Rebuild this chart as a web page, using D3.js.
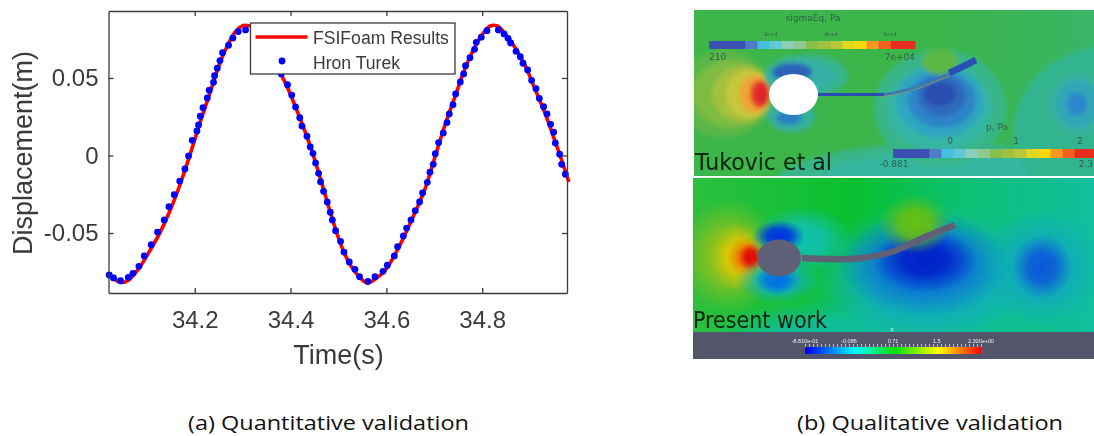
<!DOCTYPE html>
<html>
<head>
<meta charset="utf-8">
<script src="https://cdn.jsdelivr.net/npm/d3@7"></script>
<style>
  html, body { margin: 0; padding: 0; background: #fff; }
  svg { display: block; }
</style>
</head>
<body>
<svg id="chart" width="1094" height="436"></svg>
<script>
// FSIFoam curve
const lineTime = [34.0205, 34.0319, 34.0466, 34.0612, 34.0758, 34.0883, 34.1071, 34.128, 34.1489, 34.1697, 34.1906, 34.2115, 34.2324, 34.2532, 34.2699, 34.2846, 34.3013, 34.3159, 34.3326, 34.3534, 34.3785, 34.3994, 34.4203, 34.4411, 34.462, 34.4829, 34.5038, 34.5246, 34.5455, 34.5601, 34.5768, 34.5977, 34.6186, 34.6395, 34.6603, 34.6812, 34.7021, 34.723, 34.7438, 34.7647, 34.7856, 34.8023, 34.8169, 34.8315, 34.8482, 34.8691, 34.89, 34.9109, 34.9317, 34.9526, 34.9672, 34.9808]
const lineDisp = [-0.0758, -0.0797, -0.0819, -0.0806, -0.0758, -0.0706, -0.061, -0.0494, -0.0352, -0.0184, 0.001, 0.0216, 0.041, 0.0603, 0.0719, 0.0797, 0.0839, 0.0835, 0.081, 0.0732, 0.0539, 0.0397, 0.0235, 0.0061, -0.0145, -0.0365, -0.0565, -0.0706, -0.079, -0.0823, -0.0797, -0.0739, -0.0635, -0.0506, -0.0365, -0.021, -0.0003, 0.0203, 0.0384, 0.0565, 0.0706, 0.079, 0.0835, 0.0835, 0.0784, 0.0694, 0.0577, 0.0423, 0.0268, 0.0087, -0.0042, -0.0171]

// Hron Turek points (the ones under the legend are not readable)
const dotTime = [34.0215, 34.0305, 34.0451, 34.0612, 34.071, 34.0835, 34.0946, 34.1092, 34.1223, 34.1363, 34.1461, 34.1572, 34.1687, 34.1795, 34.1871, 34.1948, 34.2046, 34.2079, 34.2115, 34.2171, 34.2261, 34.2303, 34.2392, 34.2413, 34.247, 34.2526, 34.258, 34.2706, 34.2797, 34.2908, 34.3061, 34.3806, 34.3937, 34.4025, 34.4104, 34.4192, 34.4238, 34.4342, 34.4411, 34.4468, 34.4522, 34.4585, 34.4626, 34.4689, 34.4766, 34.4829, 34.4871, 34.4939, 34.5044, 34.5115, 34.5225, 34.5344, 34.544, 34.5616, 34.5762, 34.5929, 34.6019, 34.6165, 34.6234, 34.6353, 34.6422, 34.6514, 34.6603, 34.6693, 34.6756, 34.6854, 34.691, 34.6979, 34.7021, 34.709, 34.7188, 34.7265, 34.7313, 34.739, 34.7445, 34.7543, 34.7612, 34.7653, 34.7745, 34.7841, 34.7877, 34.7981, 34.81, 34.8336, 34.8455, 34.8539, 34.8593, 34.8706, 34.8795, 34.8852, 34.8948, 34.9031, 34.9123, 34.9192, 34.9282, 34.9353, 34.9428, 34.9491, 34.9526, 34.9616, 34.9658, 34.9735]
const dotDisp = [-0.0771, -0.079, -0.0808, -0.0786, -0.076, -0.0715, -0.0648, -0.0575, -0.0494, -0.0416, -0.033, -0.0253, -0.0165, -0.0087, -0.0003, 0.0098, 0.0158, 0.0197, 0.0253, 0.0308, 0.0371, 0.0421, 0.0472, 0.0515, 0.0563, 0.0612, 0.0663, 0.0711, 0.0758, 0.0799, 0.081, 0.0526, 0.0457, 0.039, 0.0313, 0.0244, 0.019, 0.0124, 0.0055, 0.0014, -0.0048, -0.0115, -0.0169, -0.0231, -0.03, -0.0366, -0.0416, -0.0485, -0.0554, -0.0623, -0.0687, -0.0734, -0.0782, -0.0812, -0.0782, -0.0747, -0.0708, -0.0648, -0.0588, -0.0519, -0.0468, -0.0416, -0.0356, -0.03, -0.0242, -0.0173, -0.0108, -0.0057, 0.0012, 0.0083, 0.0145, 0.0212, 0.0268, 0.0328, 0.0397, 0.0474, 0.0526, 0.0579, 0.0631, 0.0685, 0.073, 0.0763, 0.0805, 0.081, 0.0784, 0.0756, 0.0726, 0.0672, 0.0637, 0.0595, 0.0552, 0.0485, 0.0431, 0.0369, 0.0315, 0.0268, 0.0201, 0.015, 0.0081, 0.0008, -0.0057, -0.0121]

const xTicks = [34.2, 34.4, 34.6, 34.8]
const yTicks = [0.05, 0, -0.05]
const yTickLabels = ['0.05', '0', '-0.05']
const legendLabels = ['FSIFoam Results', 'Hron Turek']

// pressure patches of the two field pictures: [x, y, rx, ry, colour] in panel pixels
const topPatches = [
  [250, 175, 170, 42, '#38b58a'], [250, 168, 120, 26, '#35b6a0'], [420, 120, 100, 85, '#33b58e'],
  [30, 84, 48, 44, '#58b746'], [38, 84, 40, 34, '#7dbb43'], [48, 84, 30, 28, '#a4c03e'], [54, 84, 22, 24, '#c6c83a'],
  [60, 84, 15, 19, '#eda634'], [66, 84, 10, 14, '#e6402b'], [68, 84, 7, 11, '#e2202a'],
  [112, 66, 42, 22, '#38b48c'], [108, 66, 34, 16, '#36b0a8'], [98, 62, 20, 9, '#2b63b8'],
  [97, 106, 24, 16, '#36b09c'], [95, 108, 13, 7, '#2c80c2'],
  [246, 98, 66, 58, '#38b588'], [246, 98, 52, 44, '#34b5a4'], [246, 92, 44, 36, '#2fa6c0'], [248, 90, 34, 28, '#2f84c8'], [248, 86, 24, 20, '#2f6abc'], [246, 84, 16, 12, '#2a50b0'],
  [383, 94, 30, 32, '#36b49c'], [383, 94, 22, 24, '#33a6b8'], [383, 94, 10, 11, '#2c86cc'], [246, 52, 18, 13, '#5cb845']
]
const bottomPatches = [
  [235, 110, 130, 85, '#10bca8'], [140, 160, 130, 40, '#10bda0'],
  [36, 78, 52, 58, '#8cc020'], [46, 79, 30, 34, '#e0c800'], [54, 79, 20, 20, '#f07000'], [58, 79, 13, 14, '#e00808'],
  [108, 62, 52, 34, '#10c0b0'], [86, 58, 26, 16, '#0030e0'], [85, 102, 42, 24, '#10b0c0'], [84, 102, 22, 15, '#0070e8'],
  [233, 98, 105, 66, '#10a8c0'], [232, 86, 85, 52, '#0868d8'], [232, 82, 52, 32, '#0020c8'],
  [222, 46, 36, 30, '#68c010'],
  [349, 90, 60, 60, '#10a8c0'], [349, 89, 30, 32, '#0c58d8']
]
const topBeamRoot = [[124, 84], [145, 85], [170, 85.5], [190, 84.5]]
const topBeamMid = [[185, 85], [200, 83], [229, 75], [255, 64]]
const topBeamTip = [[255, 63], [270, 56], [282, 50]]
const bottomBeam = [[109, 80], [135, 81], [164, 80.5], [197, 74.5], [230, 60], [262, 47]]

const bandColours = ['#3c50b4', '#3c50b4', '#3c50b4', '#4f7cc4', '#45c0e0', '#60c8d8', '#8ccfb8', '#90c890', '#88c050', '#a0c040', '#b8c838', '#e0d820', '#f8d808', '#f89820', '#f06020', '#e82c20', '#e82c20']
const rainbowStops = [0, 0.28, 0.5, 0.75, 1]
const rainbowColours = ['#0000ff', '#00ffff', '#00e000', '#ffff00', '#ff0000']
const bottomBarLabels = ['-8.810e-01', '-0.086', '0.71', '1.5', '2.300e+00']
const bottomBarValues = [-0.881, -0.086, 0.71, 1.5, 2.3]
const captionLabels = ['(a) Quantitative validation', '(b) Qualitative validation']

const svg = d3.select('#chart')
const defs = svg.append('defs')
const INK = '#3a3a3a'
const FONT = '"Liberation Sans", Arial, sans-serif'

function addBlur(id, dev) {
  defs.append('filter').attr('id', id)
    .attr('x', '-30%').attr('y', '-30%').attr('width', '160%').attr('height', '160%')
    .append('feGaussianBlur').attr('stdDeviation', dev)
}
addBlur('soft', 0.45)
addBlur('bands', 2.2)
addBlur('text', 0.35)

// ---- left chart
const x = d3.scaleLinear().domain([34.02, 34.977]).range([108.5, 567])
const y = d3.scaleLinear().domain([-0.0887, 0.0932]).range([293, 11])

const plot = svg.append('g').attr('filter', 'url(#soft)')

plot.append('path')
  .datum(d3.zip(lineTime, lineDisp))
  .attr('d', d3.line().x(d => x(d[0])).y(d => y(d[1])).curve(d3.curveCatmullRom))
  .attr('fill', 'none')
  .attr('stroke', '#ff0000')
  .attr('stroke-width', 3.6)

plot.selectAll('circle.dot')
  .data(d3.zip(dotTime, dotDisp))
  .enter()
  .append('circle')
  .attr('class', 'dot')
  .attr('cx', d => x(d[0]))
  .attr('cy', d => y(d[1]))
  .attr('r', 3.4)
  .attr('fill', '#0000ff')

function styleAxis(g) {
  g.selectAll('path, line').attr('stroke', INK).attr('stroke-width', 1.3)
  g.selectAll('text').attr('fill', INK).attr('font-family', FONT).attr('font-size', 24)
}

plot.append('g')
  .attr('transform', `translate(0,${y.range()[0]})`)
  .call(d3.axisBottom(x).tickValues(xTicks).tickSize(-5).tickSizeOuter(0).tickPadding(18).tickFormat(d3.format('.1f')))
  .call(styleAxis)
plot.append('g')
  .attr('transform', `translate(0,${y.range()[1]})`)
  .call(d3.axisTop(x).tickValues(xTicks).tickSize(-5).tickSizeOuter(0).tickFormat(''))
  .call(styleAxis)
plot.append('g')
  .attr('transform', `translate(${x.range()[0]},0)`)
  .call(d3.axisLeft(y).tickValues(yTicks).tickSize(-5).tickSizeOuter(0).tickPadding(10).tickFormat((d, i) => yTickLabels[i]))
  .call(styleAxis)
plot.append('g')
  .attr('transform', `translate(${x.range()[1]},0)`)
  .call(d3.axisRight(y).tickValues(yTicks).tickSize(-5).tickSizeOuter(0).tickFormat(''))
  .call(styleAxis)

plot.append('text')
  .attr('x', 338.5).attr('y', 364)
  .attr('text-anchor', 'middle')
  .attr('font-family', FONT).attr('font-size', 27).attr('fill', INK)
  .text('Time(s)')
plot.append('text')
  .attr('transform', 'translate(32,153) rotate(-90)')
  .attr('text-anchor', 'middle')
  .attr('font-family', FONT).attr('font-size', 27).attr('fill', INK)
  .text('Displacement(m)')

// legend
const legend = plot.append('g').attr('transform', 'translate(250.5,23)')
legend.append('rect')
  .attr('width', 204.5).attr('height', 51)
  .attr('fill', '#fff').attr('stroke', INK).attr('stroke-width', 1.3)
legend.append('line')
  .attr('x1', 5).attr('x2', 57).attr('y1', 14).attr('y2', 14)
  .attr('stroke', '#ff0000').attr('stroke-width', 3.6)
legend.append('circle').attr('cx', 31.5).attr('cy', 38).attr('r', 3.4).attr('fill', '#0000ff')
legend.selectAll('text')
  .data(legendLabels)
  .enter()
  .append('text')
  .attr('x', 62.5)
  .attr('y', (d, i) => 21 + i * 24.5)
  .attr('font-family', FONT).attr('font-size', 17.6).attr('fill', INK)
  .text(d => d)

// ---- right field pictures
function addClip(id, w, h) {
  defs.append('clipPath').attr('id', id).append('rect').attr('width', w).attr('height', h)
}
function hGradient(id, stops) {
  const g = defs.append('linearGradient').attr('id', id)
  g.selectAll('stop').data(stops).enter().append('stop')
    .attr('offset', d => d[0]).attr('stop-color', d => d[1])
}
function drawBands(panel, patches) {
  panel.append('g').attr('filter', 'url(#bands)')
    .selectAll('ellipse')
    .data(patches)
    .enter()
    .append('ellipse')
    .attr('cx', d => d[0]).attr('cy', d => d[1])
    .attr('rx', d => d[2]).attr('ry', d => d[3])
    .attr('fill', d => d[4])
}
// smooth shading: every patch fades out to nothing at its rim
function drawFades(panel, patches, prefix) {
  patches.forEach((d, i) => {
    const g = defs.append('radialGradient').attr('id', `${prefix}${i}`)
    g.selectAll('stop').data([[0, 1], [0.45, 0.85], [0.75, 0.35], [1, 0]]).enter().append('stop')
      .attr('offset', s => s[0]).attr('stop-color', d[4]).attr('stop-opacity', s => s[1])
  })
  panel.append('g')
    .selectAll('ellipse')
    .data(patches)
    .enter()
    .append('ellipse')
    .attr('cx', d => d[0]).attr('cy', d => d[1])
    .attr('rx', d => d[2]).attr('ry', d => d[3])
    .attr('fill', (d, i) => `url(#${prefix}${i})`)
}
const beamLine = d3.line().curve(d3.curveCatmullRom)
function drawBeam(panel, pts, colour, width) {
  panel.append('path').attr('d', beamLine(pts)).attr('fill', 'none')
    .attr('stroke', colour).attr('stroke-width', width).attr('filter', 'url(#text)')
}

addClip('topClip', 400, 166)
hGradient('topBg', [[0, '#3cb54a'], [0.6, '#3cb54a'], [1, '#38b566']])
const topPanel = svg.append('g').attr('transform', 'translate(694,10)').attr('clip-path', 'url(#topClip)')
topPanel.append('rect').attr('width', 400).attr('height', 166).attr('fill', 'url(#topBg)')
drawBands(topPanel, topPatches)
drawBeam(topPanel, topBeamMid.map(d => [d[0], d[1] + 1.5]), '#c8a040', 1.2)
drawBeam(topPanel, topBeamMid, '#3a7cb0', 3)
drawBeam(topPanel, topBeamRoot, '#2a4cb0', 5)
drawBeam(topPanel, topBeamTip, '#2c50b4', 6.5)
topPanel.append('ellipse').attr('cx', 99.5).attr('cy', 84.5).attr('rx', 24.5).attr('ry', 20.5).attr('fill', '#fff')

// discrete colour bars of the upper picture
function bandBar(panel, x0, x1, y0, h) {
  const band = d3.scaleBand().domain(d3.range(bandColours.length)).range([x0, x1])
  panel.append('g').selectAll('rect')
    .data(bandColours)
    .enter()
    .append('rect')
    .attr('x', (d, i) => band(i)).attr('y', y0)
    .attr('width', band.bandwidth() + 0.5).attr('height', h)
    .attr('fill', d => d)
}
bandBar(topPanel, 15, 221, 31, 8)
bandBar(topPanel, 199, 405, 139, 9)

const fieldText = topPanel.append('g').attr('fill', '#2f6148').attr('font-family', '"DejaVu Sans", sans-serif').attr('filter', 'url(#text)')
const topLabels = [
  ['sigmaEq, Pa', 119, 11, 9, 'middle'], ['2e+4', 77, 26, 5, 'middle'], ['4e+4', 137, 26, 5, 'middle'], ['6e+4', 196, 26, 5, 'middle'],
  ['210', 15, 50, 9, 'start'], ['7e+04', 221, 50, 9, 'end'],
  ['p, Pa', 303, 120, 9, 'middle'], ['0', 256, 134, 9, 'middle'], ['1', 322, 134, 9, 'middle'], ['2', 386, 134, 9, 'middle'],
  ['-0.881', 200, 157, 9, 'middle'], ['2.3', 399, 157, 9, 'end']
]
fieldText.selectAll('text').data(topLabels).enter().append('text')
  .attr('x', d => d[1]).attr('y', d => d[2]).attr('font-size', d => d[3]).attr('text-anchor', d => d[4])
  .text(d => d[0])
topPanel.append('text')
  .attr('x', 1).attr('y', 160)
  .attr('font-family', '"DejaVu Sans", sans-serif').attr('font-size', 23).attr('fill', '#0c200c')
  .attr('textLength', 137).attr('lengthAdjust', 'spacingAndGlyphs')
  .attr('filter', 'url(#text)')
  .text('Tukovic et al')

addClip('bottomClip', 401, 181)
hGradient('bottomBg', [[0, '#2cbf3e'], [0.4, '#08c030'], [0.7, '#0cc078'], [1, '#10bfa0']])
const bottomPanel = svg.append('g').attr('transform', 'translate(693,178)').attr('clip-path', 'url(#bottomClip)')
bottomPanel.append('rect').attr('width', 401).attr('height', 181).attr('fill', 'url(#bottomBg)')
drawFades(bottomPanel, bottomPatches, 'fade')
drawBeam(bottomPanel, bottomBeam, '#5f5f78', 6.5)
bottomPanel.append('ellipse').attr('cx', 86).attr('cy', 80).attr('rx', 22).attr('ry', 18.5).attr('fill', '#5f5f78')
bottomPanel.append('text')
  .attr('x', 0).attr('y', 150)
  .attr('font-family', '"DejaVu Sans", sans-serif').attr('font-size', 23).attr('fill', '#0a240a')
  .attr('textLength', 134).attr('lengthAdjust', 'spacingAndGlyphs')
  .attr('filter', 'url(#text)')
  .text('Present work')
bottomPanel.append('rect').attr('y', 154).attr('width', 401).attr('height', 27).attr('fill', '#53566a')

// continuous colour bar
const barX = d3.scaleLinear().domain([-0.881, 2.3]).range([112, 288])
const rainbow = d3.scaleLinear().domain(rainbowStops.map(d => -0.881 + d * 3.181)).range(rainbowColours)
const barBins = d3.range(88).map(i => barX.invert(112 + i * 2))
bottomPanel.append('g').selectAll('rect')
  .data(barBins)
  .enter()
  .append('rect')
  .attr('x', d => barX(d)).attr('y', 169)
  .attr('width', 2.5).attr('height', 7)
  .attr('fill', d => rainbow(d))
bottomPanel.append('g')
  .attr('transform', 'translate(0,169)')
  .call(d3.axisTop(barX).tickValues(d3.range(0, 45).map(i => -0.881 + i * 0.0723)).tickSize(3).tickFormat(''))
  .call(g => g.select('.domain').remove())
  .call(g => g.selectAll('line').attr('stroke', '#e8e8e8').attr('stroke-width', 0.7))
bottomPanel.append('g').attr('filter', 'url(#text)')
  .selectAll('text')
  .data(bottomBarValues)
  .enter()
  .append('text')
  .attr('x', d => barX(d)).attr('y', 165)
  .attr('text-anchor', 'middle')
  .attr('font-family', FONT).attr('font-size', 5.5).attr('fill', '#f0f0f0')
  .text((d, i) => bottomBarLabels[i])
bottomPanel.append('text')
  .attr('x', 199).attr('y', 153).attr('text-anchor', 'middle')
  .attr('font-family', FONT).attr('font-size', 5.5).attr('fill', '#f0f0f0')
  .text('p')

// ---- captions
const captionX = [188, 797]
const captionW = [281, 266]
svg.selectAll('text.caption')
  .data(captionLabels)
  .enter()
  .append('text')
  .attr('class', 'caption')
  .attr('x', (d, i) => captionX[i]).attr('y', 430)
  .attr('font-family', '"Open Sans", sans-serif').attr('font-size', 20).attr('fill', '#111')
  .attr('textLength', (d, i) => captionW[i]).attr('lengthAdjust', 'spacingAndGlyphs')
  .text(d => d)
</script>
</body>
</html>
